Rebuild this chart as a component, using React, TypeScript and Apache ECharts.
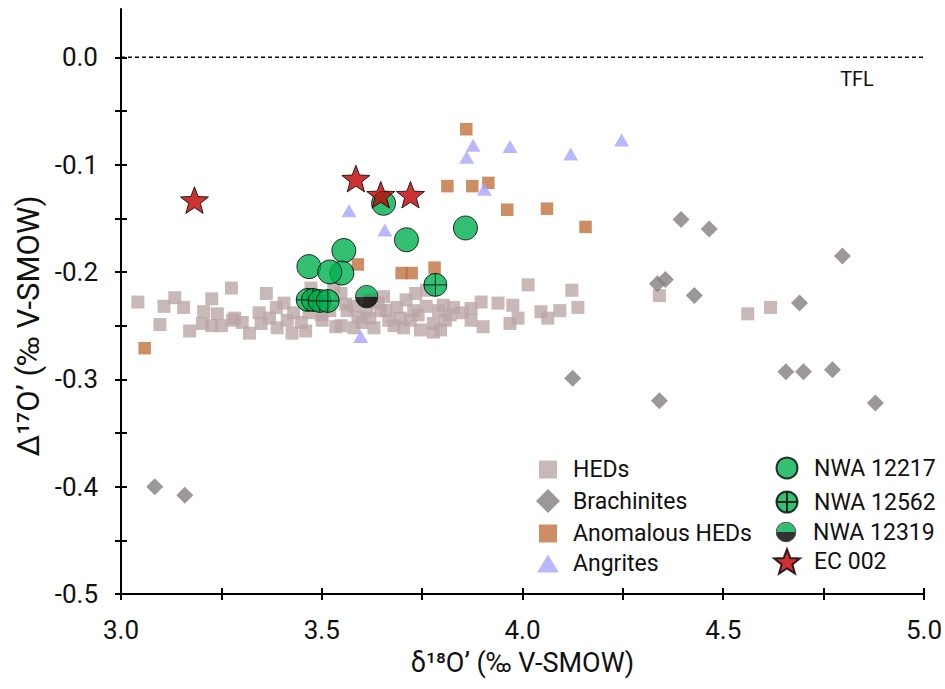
import React, { useEffect, useRef } from "react";
import * as echarts from "echarts";

// Axis ticks / labels
const xTicks = [3, 3.25, 3.5, 3.75, 4, 4.25, 4.5, 4.75, 5];
const xLabels = [3, 3.5, 4, 4.5, 5];
const yTicks = [-0.5, -0.45, -0.4, -0.35, -0.3, -0.25, -0.2, -0.15, -0.1, -0.05, 0];
const yLabels = [-0.5, -0.4, -0.3, -0.2, -0.1, 0];
const tflLine = [[3, 0], [5, 0]];

// Series data [δ18O', Δ17O']
const heds = [
  [3.042, -0.228], [3.097, -0.249], [3.107, -0.232], [3.134, -0.224], [3.156, -0.233], [3.171, -0.255],
  [3.226, -0.225], [3.206, -0.237], [3.203, -0.248], [3.24, -0.239], [3.226, -0.25], [3.25, -0.25],
  [3.275, -0.215], [3.278, -0.245], [3.362, -0.22], [3.302, -0.247], [3.283, -0.243], [3.344, -0.238],
  [3.349, -0.248], [3.387, -0.233], [3.406, -0.229], [3.389, -0.252], [3.426, -0.257], [3.414, -0.245],
  [3.449, -0.247], [3.468, -0.238], [3.473, -0.215], [3.501, -0.245], [3.53, -0.215], [3.535, -0.251],
  [3.32, -0.257], [3.548, -0.22], [3.563, -0.236], [3.548, -0.25], [3.58, -0.252], [3.63, -0.252],
  [3.667, -0.245], [3.687, -0.233], [3.734, -0.22], [3.761, -0.217], [3.729, -0.236], [3.704, -0.252],
  [3.746, -0.254], [3.778, -0.248], [3.791, -0.236], [3.654, -0.223], [3.612, -0.236], [3.647, -0.236],
  [3.778, -0.256], [3.696, -0.243], [3.803, -0.231], [3.828, -0.233], [3.808, -0.245], [3.796, -0.254],
  [3.872, -0.234], [3.897, -0.228], [3.872, -0.245], [3.902, -0.251], [3.939, -0.229], [3.976, -0.231],
  [3.989, -0.243], [3.969, -0.248], [4.014, -0.212], [4.046, -0.237], [4.063, -0.243], [4.093, -0.236],
  [4.123, -0.217], [4.138, -0.233], [4.341, -0.222], [4.561, -0.239], [4.618, -0.233],
  [3.46, -0.255], [3.5, -0.24], [3.52, -0.236], [3.59, -0.242], [3.6, -0.247], [3.62, -0.243],
  [3.66, -0.236], [3.72, -0.245], [3.74, -0.24], [3.76, -0.232], [3.82, -0.24], [3.85, -0.238],
  [3.37, -0.243], [3.43, -0.238], [3.56, -0.23], [3.68, -0.25], [3.71, -0.226], [3.58, -0.232],
  [3.64, -0.229], [3.62, -0.226]
];
const brachinites = [
  [3.084, -0.4], [3.159, -0.408], [4.125, -0.299], [4.395, -0.151], [4.465, -0.16], [4.797, -0.185],
  [4.336, -0.211], [4.356, -0.207], [4.428, -0.222], [4.69, -0.229], [4.656, -0.293], [4.7, -0.293],
  [4.772, -0.291], [4.341, -0.32], [4.879, -0.322]
];
const anomalousHeds = [
  [3.86, -0.067], [3.813, -0.12], [3.875, -0.12], [3.915, -0.117], [3.962, -0.142], [4.061, -0.141],
  [4.157, -0.158], [3.59, -0.193], [3.699, -0.201], [3.724, -0.201], [3.781, -0.196], [3.059, -0.271]
];
const angrites = [
  [3.877, -0.082], [3.861, -0.093], [3.969, -0.083], [4.12, -0.09], [4.247, -0.077], [3.905, -0.123],
  [3.568, -0.143], [3.657, -0.161], [3.597, -0.26]
];
const nwa12217 = [
  [3.654, -0.136], [3.711, -0.17], [3.858, -0.159], [3.555, -0.18], [3.468, -0.195], [3.55, -0.201], [3.52, -0.2]
];
const nwa12562 = [[3.465, -0.226], [3.478, -0.226], [3.495, -0.227], [3.515, -0.227], [3.783, -0.212]];
const nwa12319 = [[3.612, -0.223]];
const ec002 = [[3.183, -0.133], [3.585, -0.113], [3.647, -0.128], [3.721, -0.128]];

const FONT = "Roboto";
const TEXT = "#111";

const starPath =
  "path://M50,0 L62.3,33.1 L97.55,34.55 L69.9,56.5 L79.39,90.45 L50,71 L20.61,90.45 L30.1,56.5 L2.45,34.55 L37.7,33.1 Z";
const crossPath =
  "path://M24,2 A22,22 0 1,1 24,46 A22,22 0 1,1 24,2 Z M2,24 L46,24 M24,2 L24,46";
const halfSvg =
  "<svg xmlns='http://www.w3.org/2000/svg' width='48' height='48' viewBox='0 0 48 48'>" +
  "<path d='M2,24 A22,22 0 0 1 46,24 Z' fill='#00b050'/>" +
  "<path d='M2,24 A22,22 0 0 0 46,24 Z' fill='#000000'/>" +
  "<circle cx='24' cy='24' r='22.5' fill='none' stroke='#000' stroke-width='2'/></svg>";
const halfSymbol = "image://data:image/svg+xml;base64," + btoa(halfSvg);

function legendItem(name: string, cx: number, cy: number, w: number, h: number, textLeft: number) {
  return {
    data: [name],
    left: cx - w / 2,
    top: cy - h / 2,
    padding: 0,
    itemWidth: w,
    itemHeight: h,
    selectedMode: false,
    textStyle: {
      fontSize: 23,
      fontFamily: FONT,
      color: TEXT,
      lineHeight: 14,
      padding: [0, 0, 0, textLeft - (cx + w / 2) - 5],
    },
  };
}

export default function App() {
  const ref = useRef<HTMLDivElement>(null);
  useEffect(() => {
    if (!ref.current) return;
    const chart = echarts.init(ref.current, undefined, { renderer: "svg" });
    const axisLineStyle = { color: "#000", width: 2 };
    const option: any = {
      animation: false,
      backgroundColor: "#fff",
      grid: { left: 121, right: 17, top: 9, bottom: 95 },
      xAxis: [
        {
          type: "value",
          min: 3,
          max: 5,
          axisLine: { onZero: false, lineStyle: axisLineStyle },
          axisTick: { customValues: xTicks, length: 6, lineStyle: axisLineStyle },
          axisLabel: {
            customValues: xLabels,
            formatter: (v: number) => v.toFixed(1),
            fontSize: 26,
            fontFamily: FONT,
            color: TEXT,
            margin: 23,
          },
          splitLine: { show: false },
          name: "δ¹⁸O’ (‰ V-SMOW)",
          nameLocation: "middle",
          nameGap: 55,
          nameTextStyle: { fontSize: 27, fontFamily: FONT, color: TEXT },
        },
        {
          type: "value",
          min: 3,
          max: 5,
          position: "bottom",
          axisLine: { show: false, onZero: false },
          axisTick: { customValues: xTicks, inside: true, length: 6, lineStyle: axisLineStyle },
          axisLabel: { show: false },
          splitLine: { show: false },
        },
      ],
      yAxis: [
        {
          type: "value",
          min: -0.5,
          max: 0.045,
          axisLine: { onZero: false, lineStyle: axisLineStyle },
          axisTick: { customValues: yTicks, length: 6, lineStyle: axisLineStyle },
          axisLabel: {
            customValues: yLabels,
            formatter: (v: number) => (Math.abs(v) < 1e-9 ? "0.0" : v.toFixed(1)),
            fontSize: 26,
            fontFamily: FONT,
            color: TEXT,
            margin: 23,
          },
          splitLine: { show: false },
        },
        {
          type: "value",
          min: -0.5,
          max: 0.045,
          position: "left",
          axisLine: { show: false, onZero: false },
          axisTick: { customValues: yTicks, inside: true, length: 6, lineStyle: axisLineStyle },
          axisLabel: { show: false },
          splitLine: { show: false },
        },
      ],
      legend: [
        legendItem("HEDs", 548, 467, 18, 18, 573),
        legendItem("Brachinites", 548, 501, 24, 24, 573),
        legendItem("Anomalous HEDs", 548, 531, 18, 18, 573),
        legendItem("Angrites", 548, 561, 22, 18, 573),
        legendItem("NWA 12217", 786, 467, 21, 21, 813),
        legendItem("NWA 12562", 786, 501, 21, 21, 813),
        legendItem("NWA 12319", 786, 531, 21, 21, 813),
        legendItem("EC 002", 786, 561, 26, 26, 813),
      ],
      graphic: [
        {
          type: "text",
          x: 28,
          y: 326,
          rotation: Math.PI / 2,
          style: {
            text: "Δ¹⁷O’ (‰ V-SMOW)",
            fontSize: 31,
            fontFamily: FONT,
            fill: TEXT,
            align: "center",
            verticalAlign: "middle",
          },
        },
        {
          type: "text",
          x: 857,
          y: 79,
          style: {
            text: "TFL",
            fontSize: 20,
            fontFamily: FONT,
            fill: TEXT,
            align: "center",
            verticalAlign: "middle",
          },
        },
      ],
      series: [
        {
          type: "line",
          name: "TFL",
          data: tflLine,
          symbol: "none",
          silent: true,
          lineStyle: { color: "#000", width: 1.5, type: [4, 3] },
          z: 1,
        },
        {
          type: "scatter",
          name: "HEDs",
          data: heds,
          symbol: "rect",
          symbolSize: 13,
          itemStyle: { color: "#bba6a6" },
          z: 2,
        },
        {
          type: "scatter",
          name: "Brachinites",
          data: brachinites,
          symbol: "diamond",
          symbolSize: 17,
          itemStyle: { color: "#857e7e" },
          z: 2,
        },
        {
          type: "scatter",
          name: "Anomalous HEDs",
          data: anomalousHeds,
          symbol: "rect",
          symbolSize: 12.5,
          itemStyle: { color: "#c0703e" },
          z: 3,
        },
        {
          type: "scatter",
          name: "Angrites",
          data: angrites,
          symbol: "triangle",
          symbolSize: [15, 13],
          itemStyle: { color: "#a9a5fc" },
          z: 3,
        },
        {
          type: "scatter",
          name: "NWA 12217",
          data: nwa12217,
          symbol: "circle",
          symbolSize: 24,
          itemStyle: { color: "#00b050", borderColor: "#000", borderWidth: 1 },
          z: 4,
        },
        {
          type: "scatter",
          name: "NWA 12562",
          data: nwa12562,
          symbol: crossPath,
          symbolSize: 23,
          itemStyle: { color: "#00b050", borderColor: "#000", borderWidth: 1 },
          z: 4,
        },
        {
          type: "scatter",
          name: "NWA 12319",
          data: nwa12319,
          symbol: halfSymbol,
          symbolSize: 24,
          z: 4,
        },
        {
          type: "scatter",
          name: "EC 002",
          data: ec002,
          symbol: starPath,
          symbolKeepAspect: true,
          symbolSize: 28,
          itemStyle: { color: "#c00000", borderColor: "#000", borderWidth: 1 },
          z: 5,
        },
      ],
    };
    chart.setOption(option);
    return () => chart.dispose();
  }, []);
  return (
    <div
      ref={ref}
      style={{ position: "fixed", left: 0, top: 0, width: 945, height: 689, background: "#fff" }}
    />
  );
}
